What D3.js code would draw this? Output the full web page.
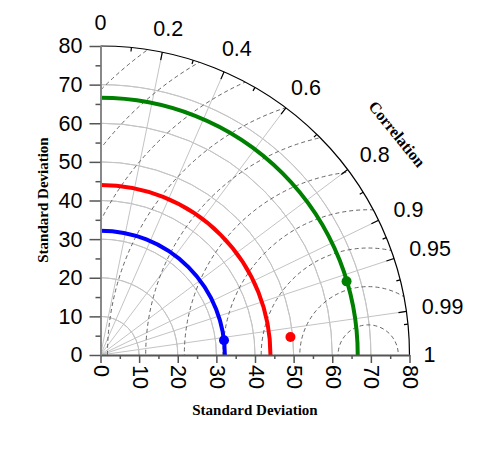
<!DOCTYPE html>
<html>
<head>
<meta charset="utf-8">
<script src="https://cdn.jsdelivr.net/npm/d3@7"></script>
<style>
  body { margin: 0; background: #fff; }
  svg { display: block; }
  .tick text { font-family: Arial, "Liberation Sans", sans-serif; }
</style>
</head>
<body>
<div id="chart"></div>
<script>
// std dev grid (solid grey arcs) and axis ticks
const stdGrid = [10, 20, 30, 40, 50, 60, 70];
const stdTicks = [0, 10, 20, 30, 40, 50, 60, 70, 80];
const stdMinor = [5, 15, 25, 35, 45, 55, 65, 75];

// correlation grid
const corrLabels = [0, 0.2, 0.4, 0.6, 0.8, 0.9, 0.95, 0.99, 1];
const corrMajor = [0.2, 0.4, 0.6, 0.8, 0.9, 0.95, 0.99];
const corrMinor = [0.1, 0.3, 0.5, 0.7, 0.85, 0.925, 0.97, 0.995];

// centred RMS contours (dashed)
const refStd = 69.3;
const rmsRings = [7.8, 17.7, 27.7, 37.6, 47.6, 57.6, 67.5, 77.5, 87.5, 97.5];

// series
const seriesNames = ['A', 'B', 'C'];
const arcStd = [32.2, 44.0, 66.6];
const pointStd = [32.2, 49.4, 66.5];
const pointCorr = [0.993, 0.9955, 0.958];

const width = 480;
const height = 460;
const cx = 100.5;
const cy = 355;
const R = 309;
const maxStd = 80;
const fontSize = 21.5;

const color = d3.scaleOrdinal().domain(seriesNames).range(['#0000ff', '#ff0000', '#008000']);

const rScale = d3.scaleLinear().domain([0, maxStd]).range([0, R]);
const xScale = d3.scaleLinear().domain([0, maxStd]).range([cx, cx + R]);
const yScale = d3.scaleLinear().domain([0, maxStd]).range([cy, cy - R]);

// polar -> screen (std, correlation)
const pos = (s, c) => {
  const t = Math.acos(c);
  return [cx + rScale(s) * Math.cos(t), cy - rScale(s) * Math.sin(t)];
};

const svg = d3.select('#chart')
  .append('svg')
  .attr('width', width)
  .attr('height', height);

svg.append('rect').attr('width', width).attr('height', height).attr('fill', '#fff');

// quarter disc clip for the dashed contours
svg.append('defs')
  .append('clipPath')
  .attr('id', 'quarter')
  .append('path')
  .attr('transform', `translate(${cx},${cy})`)
  .attr('d', d3.arc().innerRadius(0).outerRadius(R).startAngle(0).endAngle(Math.PI / 2)());

const quarterArc = (s) => d3.arc().innerRadius(rScale(s)).outerRadius(rScale(s))
  .startAngle(0).endAngle(Math.PI / 2)();

// std dev grid arcs
svg.append('g')
  .attr('transform', `translate(${cx},${cy})`)
  .selectAll('path')
  .data(stdGrid)
  .join('path')
  .attr('d', quarterArc)
  .attr('fill', 'none')
  .attr('stroke', '#c4c4c4')
  .attr('stroke-width', 1);

// correlation radial lines
svg.append('g')
  .selectAll('line')
  .data(corrMajor)
  .join('line')
  .attr('x1', cx).attr('y1', cy)
  .attr('x2', (d) => pos(maxStd, d)[0])
  .attr('y2', (d) => pos(maxStd, d)[1])
  .attr('stroke', '#c4c4c4')
  .attr('stroke-width', 1);

// RMS contours
svg.append('g')
  .attr('clip-path', 'url(#quarter)')
  .selectAll('circle')
  .data(rmsRings)
  .join('circle')
  .attr('cx', xScale(refStd))
  .attr('cy', cy)
  .attr('r', (d) => rScale(d))
  .attr('fill', 'none')
  .attr('stroke', '#555')
  .attr('stroke-width', 0.9)
  .attr('stroke-dasharray', '4,3');

// outer correlation arc
svg.append('path')
  .attr('transform', `translate(${cx},${cy})`)
  .attr('d', quarterArc(maxStd))
  .attr('fill', 'none')
  .attr('stroke', '#000')
  .attr('stroke-width', 1.2);

// ticks on the outer arc (pointing inward)
const arcTick = (len) => (sel) => sel
  .attr('x1', (d) => pos(maxStd, d)[0])
  .attr('y1', (d) => pos(maxStd, d)[1])
  .attr('x2', (d) => pos(maxStd - len / (R / maxStd), d)[0])
  .attr('y2', (d) => pos(maxStd - len / (R / maxStd), d)[1])
  .attr('stroke', '#000')
  .attr('stroke-width', 1.2);

svg.append('g').selectAll('line').data(corrMajor).join('line').call(arcTick(8));
svg.append('g').selectAll('line').data(corrMinor).join('line').call(arcTick(4));

// correlation labels, pushed out by their own size
const corrText = svg.append('g')
  .selectAll('text')
  .data(corrLabels)
  .join('text')
  .attr('font-family', 'Arial, "Liberation Sans", sans-serif')
  .attr('font-size', fontSize)
  .attr('fill', '#000')
  .attr('text-anchor', 'middle')
  .attr('dominant-baseline', 'central')
  .text((d) => String(d));

corrText.each(function (d) {
  const w = this.getComputedTextLength();
  const t = Math.acos(d);
  const rr = R + 14 + (w / 2) * Math.cos(t) + 9 * Math.sin(t);
  d3.select(this)
    .attr('x', cx + rr * Math.cos(t) + 2 * Math.sin(2 * t))
    .attr('y', cy - rr * Math.sin(t) + 4 * Math.sin(2 * t));
});

// coloured std arcs
svg.append('g')
  .attr('transform', `translate(${cx},${cy})`)
  .selectAll('path')
  .data(seriesNames)
  .join('path')
  .attr('d', (d, i) => quarterArc(arcStd[i]))
  .attr('fill', 'none')
  .attr('stroke', (d) => color(d))
  .attr('stroke-width', 4);

// x axis
const xAxis = svg.append('g')
  .attr('transform', `translate(0,${cy})`)
  .call(d3.axisBottom(xScale).tickValues(stdTicks).tickSize(8).tickSizeOuter(0).tickFormat(d3.format('d')));
xAxis.select('.domain').attr('stroke', '#555').attr('stroke-width', 2);
xAxis.selectAll('.tick line').attr('stroke', '#555').attr('stroke-width', 1.5);
xAxis.selectAll('.tick text')
  .attr('font-size', fontSize)
  .attr('fill', '#000')
  .attr('y', 0)
  .attr('x', 0)
  .attr('dy', null)
  .attr('text-anchor', 'start')
  .attr('dominant-baseline', 'central')
  .attr('transform', 'translate(0,10) rotate(90)');

svg.append('g')
  .attr('transform', `translate(0,${cy})`)
  .call(d3.axisBottom(xScale).tickValues(stdMinor).tickSize(4).tickFormat(''))
  .call((g) => g.select('.domain').remove())
  .selectAll('.tick line').attr('stroke', '#555').attr('stroke-width', 1.5);

// y axis
const yAxis = svg.append('g')
  .attr('transform', `translate(${cx},0)`)
  .call(d3.axisLeft(yScale).tickValues(stdTicks).tickSize(11).tickSizeOuter(0).tickPadding(7).tickFormat(d3.format('d')));
yAxis.select('.domain').attr('stroke', '#888').attr('stroke-width', 2);
yAxis.selectAll('.tick line').attr('stroke', '#555').attr('stroke-width', 1.5);
yAxis.selectAll('.tick text').attr('font-size', fontSize).attr('fill', '#000');

svg.append('g')
  .attr('transform', `translate(${cx},0)`)
  .call(d3.axisLeft(yScale).tickValues(stdMinor).tickSize(5).tickFormat(''))
  .call((g) => g.select('.domain').remove())
  .selectAll('.tick line').attr('stroke', '#555').attr('stroke-width', 1.5);

// points
svg.append('g')
  .selectAll('circle')
  .data(seriesNames)
  .join('circle')
  .attr('cx', (d, i) => pos(pointStd[i], pointCorr[i])[0])
  .attr('cy', (d, i) => pos(pointStd[i], pointCorr[i])[1])
  .attr('r', 5)
  .attr('fill', (d) => color(d));

// axis titles
const serif = '"Times New Roman", "Liberation Serif", serif';
svg.append('text')
  .attr('x', 255)
  .attr('y', 415)
  .attr('text-anchor', 'middle')
  .attr('font-family', serif)
  .attr('font-weight', 'bold')
  .attr('font-size', 15)
  .text('Standard Deviation');

svg.append('text')
  .attr('transform', 'translate(48,200) rotate(-90)')
  .attr('text-anchor', 'middle')
  .attr('font-family', serif)
  .attr('font-weight', 'bold')
  .attr('font-size', 15)
  .text('Standard Deviation');

svg.append('text')
  .attr('transform', 'translate(397,134) rotate(51)')
  .attr('text-anchor', 'middle')
  .attr('dominant-baseline', 'central')
  .attr('font-family', serif)
  .attr('font-weight', 'bold')
  .attr('font-size', 16)
  .text('Correlation');
</script>
</body>
</html>
